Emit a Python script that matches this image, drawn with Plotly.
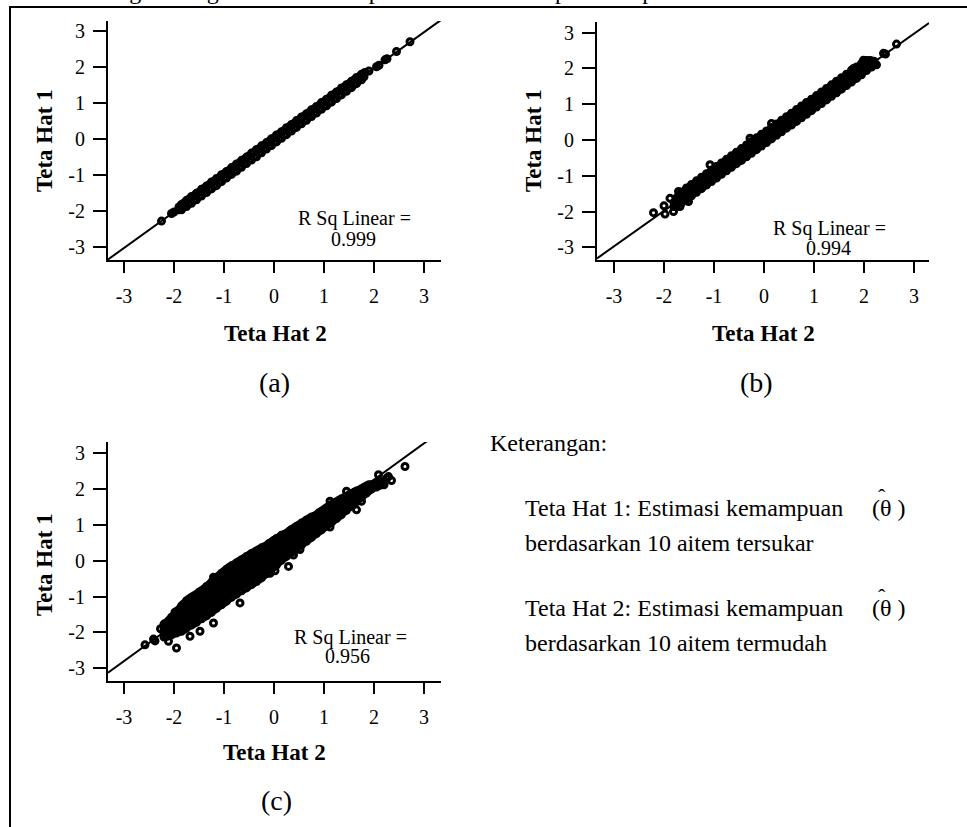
import plotly.graph_objects as go

W, H = 967, 827
SERIF = "Liberation Serif"

tick_vals = [-3, -2, -1, 0, 1, 2, 3]
tick_text = ["-3", "-2", "-1", "0", "1", "2", "3"]

# ---------------- panel (a): Teta Hat 2 (x) vs Teta Hat 1 (y) ----------------
a_cols_x = [-1.9, -1.8, -1.7, -1.6, -1.5, -1.4, -1.3, -1.2, -1.1, -1.0,
            -0.9, -0.8, -0.7, -0.6, -0.5, -0.4, -0.3, -0.2, -0.1, 0.0,
            0.1, 0.2, 0.3, 0.4, 0.5, 0.6, 0.7, 0.8, 0.9, 1.0,
            1.1, 1.2, 1.3, 1.4, 1.5, 1.6, 1.7, 1.8]
a_cols_y = [[-1.96, -1.88], [-1.87, -1.77], [-1.78, -1.67], [-1.68, -1.57],
            [-1.58, -1.47], [-1.48, -1.37], [-1.39, -1.27], [-1.28, -1.17],
            [-1.18, -1.07], [-1.09, -0.97], [-0.98, -0.87], [-0.88, -0.77],
            [-0.79, -0.67], [-0.68, -0.57], [-0.58, -0.47], [-0.49, -0.37],
            [-0.38, -0.27], [-0.28, -0.17], [-0.19, -0.07], [-0.08, 0.03],
            [0.02, 0.13], [0.11, 0.23], [0.22, 0.33], [0.31, 0.43],
            [0.42, 0.53], [0.51, 0.63], [0.62, 0.73], [0.71, 0.83],
            [0.82, 0.93], [0.91, 1.03], [1.02, 1.13], [1.11, 1.23],
            [1.22, 1.33], [1.31, 1.43], [1.42, 1.53], [1.51, 1.63],
            [1.62, 1.72], [1.72, 1.82]]
a_cols2_x = [-1.85, -1.75, -1.65, -1.55, -1.45, -1.35, -1.25, -1.15, -1.05, -0.95,
             -0.85, -0.75, -0.65, -0.55, -0.45, -0.35, -0.25, -0.15, -0.05, 0.05,
             0.15, 0.25, 0.35, 0.45, 0.55, 0.65, 0.75, 0.85, 0.95, 1.05,
             1.15, 1.25, 1.35, 1.45, 1.55, 1.65, 1.75]
a_cols2_y = [[-1.96, -1.81], [-1.87, -1.70], [-1.78, -1.59], [-1.68, -1.50],
             [-1.58, -1.39], [-1.48, -1.30], [-1.38, -1.19], [-1.29, -1.09],
             [-1.18, -0.99], [-1.08, -0.90], [-0.98, -0.79], [-0.89, -0.69],
             [-0.78, -0.59], [-0.68, -0.50], [-0.58, -0.39], [-0.49, -0.29],
             [-0.38, -0.19], [-0.28, -0.10], [-0.18, 0.01], [-0.08, 0.11],
             [0.02, 0.20], [0.12, 0.31], [0.22, 0.40], [0.32, 0.51],
             [0.42, 0.61], [0.52, 0.70], [0.62, 0.81], [0.72, 0.90],
             [0.82, 1.01], [0.92, 1.10], [1.02, 1.21], [1.12, 1.30],
             [1.22, 1.41], [1.32, 1.50], [1.42, 1.60], [1.53, 1.70],
             [1.64, 1.79]]
a_out_x = [-2.25, -2.05, -2.00, -1.72, 1.82, 1.90, 2.05, 2.10, 2.22, 2.26, 2.45, 2.72]
a_out_y = [-2.27, -2.06, -2.02, -1.68, 1.84, 1.88, 2.00, 2.04, 2.19, 2.22, 2.42, 2.69]
a_fit = (0.995, -0.03)
a_r2 = "0.999"

# ---------------- panel (b) ----------------
b_cols_x = [-1.8, -1.7, -1.6, -1.5, -1.4, -1.3, -1.2, -1.1, -1.0, -0.9,
            -0.8, -0.7, -0.6, -0.5, -0.4, -0.3, -0.2, -0.1, 0.0, 0.1,
            0.2, 0.3, 0.4, 0.5, 0.6, 0.7, 0.8, 0.9, 1.0, 1.1,
            1.2, 1.3, 1.4, 1.5, 1.6, 1.7, 1.8, 1.9, 2.0, 2.1, 2.2]
b_cols_y = [[-1.86, -1.75], [-1.76, -1.64, -1.55], [-1.66, -1.55, -1.45],
            [-1.57, -1.45, -1.33], [-1.47, -1.36, -1.24], [-1.36, -1.25, -1.15],
            [-1.27, -1.16, -1.04], [-1.17, -1.05, -0.93], [-1.07, -0.96, -0.84],
            [-0.96, -0.85, -0.75], [-0.87, -0.76, -0.63], [-0.77, -0.65, -0.54],
            [-0.67, -0.56, -0.45], [-0.57, -0.46, -0.34], [-0.48, -0.36, -0.25],
            [-0.37, -0.26, -0.16], [-0.27, -0.16, -0.04], [-0.18, -0.06, 0.05],
            [-0.07, 0.04, 0.16], [0.03, 0.14, 0.24], [0.13, 0.24, 0.36],
            [0.22, 0.34, 0.45], [0.33, 0.44, 0.55], [0.43, 0.53, 0.66],
            [0.52, 0.63, 0.74], [0.62, 0.74, 0.84], [0.72, 0.83, 0.95],
            [0.82, 0.93, 1.04], [0.91, 1.03, 1.14], [1.02, 1.13, 1.25],
            [1.12, 1.23, 1.34], [1.21, 1.33, 1.45], [1.32, 1.43, 1.54],
            [1.42, 1.52, 1.64], [1.51, 1.62, 1.74], [1.61, 1.72, 1.83],
            [1.71, 1.82, 1.94], [1.81, 1.92, 2.03], [1.93, 2.04, 2.15],
            [2.03, 2.14, 2.21], [2.12, 2.20]]
b_cols2_x = [-1.75, -1.65, -1.55, -1.45, -1.35, -1.25, -1.15, -1.05, -0.95, -0.85,
             -0.75, -0.65, -0.55, -0.45, -0.35, -0.25, -0.15, -0.05, 0.05, 0.15,
             0.25, 0.35, 0.45, 0.55, 0.65, 0.75, 0.85, 0.95, 1.05, 1.15,
             1.25, 1.35, 1.45, 1.55, 1.65, 1.75, 1.85, 1.95, 2.05, 2.15]
b_cols2_y = [[-1.86, -1.74, -1.62], [-1.76, -1.65, -1.53, -1.45], [-1.66, -1.55, -1.44, -1.34],
             [-1.56, -1.45, -1.34, -1.24], [-1.46, -1.35, -1.24, -1.14],
             [-1.36, -1.25, -1.14, -1.04], [-1.26, -1.15, -1.04, -0.94],
             [-1.16, -1.05, -0.94, -0.84], [-1.06, -0.95, -0.84, -0.74],
             [-0.96, -0.85, -0.74, -0.64], [-0.86, -0.75, -0.64, -0.54],
             [-0.76, -0.65, -0.54, -0.44], [-0.66, -0.55, -0.44, -0.34],
             [-0.57, -0.45, -0.34, -0.24], [-0.47, -0.35, -0.24, -0.14],
             [-0.37, -0.25, -0.14, -0.04], [-0.27, -0.15, -0.04, 0.06],
             [-0.17, -0.05, 0.06, 0.16], [-0.07, 0.04, 0.15, 0.25],
             [0.03, 0.14, 0.25, 0.35], [0.13, 0.24, 0.35, 0.45],
             [0.23, 0.34, 0.45, 0.55], [0.33, 0.44, 0.55, 0.65],
             [0.42, 0.54, 0.65, 0.75], [0.52, 0.64, 0.75, 0.85],
             [0.62, 0.74, 0.85, 0.95], [0.72, 0.84, 0.95, 1.05],
             [0.82, 0.94, 1.05, 1.14], [0.92, 1.04, 1.15, 1.24],
             [1.02, 1.13, 1.25, 1.34], [1.12, 1.23, 1.34, 1.44],
             [1.22, 1.33, 1.44, 1.54], [1.32, 1.43, 1.54, 1.64],
             [1.42, 1.53, 1.64, 1.74], [1.52, 1.63, 1.74, 1.84],
             [1.62, 1.73, 1.84, 1.95], [1.72, 1.83, 1.94, 2.04],
             [1.82, 1.93, 2.04, 2.14], [1.94, 2.05, 2.16, 2.22],
             [2.04, 2.13, 2.21]]
b_out_x = [-2.21, -1.98, -2.00, -1.81, -1.68, -1.51, -1.88, -1.71, -1.08, -0.28, 0.15,
           1.79, 1.99, 2.05, 2.12, 2.19, 2.25, 2.39, 2.43, 2.65]
b_out_y = [-2.03, -2.07, -1.84, -2.00, -1.86, -1.72, -1.63, -1.44, -0.69, 0.05, 0.46,
           2.00, 2.23, 2.20, 2.22, 2.14, 2.10, 2.42, 2.40, 2.68]
b_fit = (0.99, 0.0)
b_r2 = "0.994"

# ---------------- panel (c) ----------------
c_cols_x = [-2.2, -2.1, -2.0, -1.9, -1.8, -1.7, -1.6, -1.5, -1.4, -1.3,
            -1.2, -1.1, -1.0, -0.9, -0.8, -0.7, -0.6, -0.5, -0.4, -0.3,
            -0.2, -0.1, 0.0, 0.1, 0.2, 0.3, 0.4, 0.5, 0.6, 0.7,
            0.8, 0.9, 1.0, 1.1, 1.2, 1.3, 1.4, 1.5, 1.6, 1.7,
            1.8, 1.9, 2.0, 2.1]
c_cols_y = [[-2.13, -2.01, -1.88, -1.77],
            [-2.07, -1.93, -1.80, -1.66],
            [-2.03, -1.90, -1.77, -1.64, -1.52],
            [-1.98, -1.85, -1.72, -1.58, -1.46, -1.36],
            [-1.92, -1.79, -1.66, -1.53, -1.40, -1.28, -1.20],
            [-1.81, -1.68, -1.55, -1.42, -1.29, -1.16, -1.07],
            [-1.75, -1.62, -1.49, -1.36, -1.23, -1.10, -0.98],
            [-1.64, -1.51, -1.38, -1.25, -1.12, -0.99, -0.88],
            [-1.57, -1.44, -1.31, -1.18, -1.05, -0.92, -0.79],
            [-1.47, -1.34, -1.21, -1.08, -0.95, -0.82, -0.68],
            [-1.37, -1.24, -1.11, -0.98, -0.85, -0.72, -0.59, -0.54],
            [-1.26, -1.13, -1.00, -0.87, -0.74, -0.61, -0.48, -0.42],
            [-1.17, -1.04, -0.91, -0.78, -0.65, -0.52, -0.40, -0.30],
            [-1.05, -0.92, -0.79, -0.66, -0.53, -0.40, -0.27, -0.19],
            [-0.96, -0.83, -0.70, -0.57, -0.44, -0.31, -0.18, -0.11],
            [-0.86, -0.73, -0.60, -0.47, -0.34, -0.21, -0.08, -0.02],
            [-0.78, -0.65, -0.52, -0.39, -0.26, -0.13, 0.00, 0.06],
            [-0.69, -0.56, -0.43, -0.30, -0.17, -0.04, 0.09, 0.15],
            [-0.61, -0.48, -0.35, -0.22, -0.09, 0.04, 0.17, 0.23],
            [-0.51, -0.38, -0.25, -0.12, 0.01, 0.14, 0.27, 0.31],
            [-0.40, -0.27, -0.14, -0.01, 0.12, 0.25, 0.38],
            [-0.27, -0.14, -0.01, 0.12, 0.25, 0.38, 0.48],
            [-0.16, -0.03, 0.10, 0.23, 0.36, 0.49, 0.57],
            [-0.03, 0.10, 0.23, 0.36, 0.49, 0.62, 0.65],
            [0.08, 0.21, 0.34, 0.47, 0.60, 0.73],
            [0.19, 0.32, 0.45, 0.58, 0.71, 0.82],
            [0.30, 0.43, 0.56, 0.69, 0.82, 0.91],
            [0.40, 0.53, 0.66, 0.79, 0.92, 1.00],
            [0.51, 0.64, 0.77, 0.90, 1.03, 1.08],
            [0.61, 0.74, 0.87, 1.00, 1.13, 1.17],
            [0.72, 0.85, 0.98, 1.11, 1.24],
            [0.83, 0.96, 1.09, 1.22, 1.34],
            [0.93, 1.06, 1.19, 1.32, 1.43],
            [1.04, 1.17, 1.30, 1.43, 1.52],
            [1.14, 1.27, 1.40, 1.53, 1.60],
            [1.25, 1.38, 1.51, 1.64, 1.69],
            [1.37, 1.50, 1.63, 1.76],
            [1.49, 1.62, 1.74, 1.84],
            [1.61, 1.73, 1.84, 1.91],
            [1.73, 1.85, 1.97],
            [1.85, 1.97, 2.05],
            [1.96, 2.08, 2.12],
            [2.06, 2.14],
            [2.10, 2.18]]
c_cols2_x = [-2.15, -2.05, -1.95, -1.85, -1.75, -1.65, -1.55, -1.45, -1.35, -1.25,
             -1.15, -1.05, -0.95, -0.85, -0.75, -0.65, -0.55, -0.45, -0.35, -0.25,
             -0.15, -0.05, 0.05, 0.15, 0.25, 0.35, 0.45, 0.55, 0.65, 0.75,
             0.85, 0.95, 1.05, 1.15, 1.25, 1.35, 1.45, 1.55, 1.65, 1.75,
             1.85, 1.95, 2.05, 2.15]
c_cols2_y = [[-2.12, -1.99, -1.86, -1.73],
             [-2.07, -1.94, -1.81, -1.68, -1.58],
             [-2.02, -1.89, -1.76, -1.63, -1.50, -1.42],
             [-1.97, -1.84, -1.71, -1.58, -1.45, -1.32, -1.26],
             [-1.88, -1.75, -1.62, -1.49, -1.36, -1.23, -1.12],
             [-1.80, -1.67, -1.54, -1.41, -1.28, -1.15, -1.02],
             [-1.72, -1.59, -1.46, -1.33, -1.20, -1.07, -0.94],
             [-1.62, -1.49, -1.36, -1.23, -1.10, -0.97, -0.84],
             [-1.54, -1.41, -1.28, -1.15, -1.02, -0.89, -0.76, -0.72],
             [-1.44, -1.31, -1.18, -1.05, -0.92, -0.79, -0.66, -0.60],
             [-1.33, -1.20, -1.07, -0.94, -0.81, -0.68, -0.55, -0.47],
             [-1.23, -1.10, -0.97, -0.84, -0.71, -0.58, -0.45, -0.35],
             [-1.13, -1.00, -0.87, -0.74, -0.61, -0.48, -0.35, -0.24],
             [-1.02, -0.89, -0.76, -0.63, -0.50, -0.37, -0.24, -0.14],
             [-0.93, -0.80, -0.67, -0.54, -0.41, -0.28, -0.15, -0.06],
             [-0.84, -0.71, -0.58, -0.45, -0.32, -0.19, -0.06, 0.03],
             [-0.76, -0.63, -0.50, -0.37, -0.24, -0.11, 0.02, 0.12],
             [-0.67, -0.54, -0.41, -0.28, -0.15, -0.02, 0.11, 0.20],
             [-0.58, -0.45, -0.32, -0.19, -0.06, 0.07, 0.20, 0.28],
             [-0.48, -0.35, -0.22, -0.09, 0.04, 0.17, 0.30, 0.36],
             [-0.36, -0.23, -0.10, 0.03, 0.16, 0.29, 0.42],
             [-0.24, -0.11, 0.02, 0.15, 0.28, 0.41, 0.52],
             [-0.12, 0.01, 0.14, 0.27, 0.40, 0.53, 0.62],
             [0.01, 0.14, 0.27, 0.40, 0.53, 0.66, 0.71],
             [0.12, 0.25, 0.38, 0.51, 0.64, 0.77],
             [0.23, 0.36, 0.49, 0.62, 0.75, 0.87],
             [0.33, 0.46, 0.59, 0.72, 0.85, 0.96],
             [0.44, 0.57, 0.70, 0.83, 0.96, 1.05],
             [0.54, 0.67, 0.80, 0.93, 1.06, 1.14],
             [0.65, 0.78, 0.91, 1.04, 1.17, 1.22],
             [0.76, 0.89, 1.02, 1.15, 1.28],
             [0.86, 0.99, 1.12, 1.25, 1.38],
             [0.97, 1.10, 1.23, 1.36, 1.48],
             [1.07, 1.20, 1.33, 1.46, 1.57],
             [1.18, 1.31, 1.44, 1.57, 1.65],
             [1.29, 1.42, 1.55, 1.68, 1.73],
             [1.41, 1.54, 1.67, 1.80],
             [1.53, 1.66, 1.78, 1.88],
             [1.65, 1.78, 1.90, 1.95],
             [1.77, 1.90, 2.01],
             [1.89, 2.01, 2.09],
             [2.00, 2.12],
             [2.06, 2.16],
             [2.12, 2.20]]
c_out_x = [-2.58, -2.41, -2.38, -2.27, -2.11, -1.95, -1.98, -1.68, -1.48, -1.21, -1.21,
           -0.68, -0.08, 0.02, 0.29, 0.39, 0.52, 1.12, 1.12, 1.45, 1.65, 1.75,
           2.09, 2.20, 2.25, 2.29, 2.35, 2.62]
c_out_y = [-2.35, -2.19, -2.24, -1.90, -2.25, -2.44, -1.44, -2.11, -1.97, -1.74, -0.46,
           -1.18, -0.35, -0.28, -0.16, 0.16, 0.31, 0.94, 1.66, 1.94, 1.42, 1.66,
           2.40, 2.12, 2.30, 2.35, 2.24, 2.63]
c_fit = (1.014, 0.236)
c_r2 = "0.956"


def flatten(*pairs):
    xs, ys = [], []
    for cols_x, cols_y in pairs:
        for x, col in zip(cols_x, cols_y):
            for y in col:
                xs.append(x)
                ys.append(y)
    return xs, ys


def px(x):
    return x / W


def py(y):
    return 1 - y / H


# pixel frames of each panel: x-axis span, y-axis span, and where 0 sits
panels = [
    dict(name="", xs=(108, 441), ys=(21, 260), x0=274, y0=139.0, ypu=36.15,
         cols=[(a_cols_x, a_cols_y), (a_cols2_x, a_cols2_y)], out=(a_out_x, a_out_y), fit=a_fit),
    dict(name="2", xs=(597, 929), ys=(22, 260), x0=764, y0=140.0, ypu=35.8,
         cols=[(b_cols_x, b_cols_y), (b_cols2_x, b_cols2_y)], out=(b_out_x, b_out_y), fit=b_fit),
    dict(name="3", xs=(108, 441), ys=(442, 681), x0=274, y0=560.7, ypu=35.8,
         cols=[(c_cols_x, c_cols_y), (c_cols2_x, c_cols2_y)], out=(c_out_x, c_out_y), fit=c_fit),
]
XPU = 50.0

fig = go.Figure()
marker = dict(symbol="circle-open", size=6, color="black", line=dict(width=3, color="black"))

layout_axes = {}
for p in panels:
    n = p["name"]
    xr = [(p["xs"][0] - p["x0"]) / XPU, (p["xs"][1] - p["x0"]) / XPU]
    yr = [(p["y0"] - p["ys"][1]) / p["ypu"], (p["y0"] - p["ys"][0]) / p["ypu"]]
    common = dict(showline=True, linecolor="black", linewidth=2, ticks="outside",
                  tickwidth=2, tickcolor="black", showgrid=False, zeroline=False,
                  tickvals=tick_vals, ticktext=tick_text, fixedrange=True,
                  tickfont=dict(family=SERIF, size=20, color="black"))
    layout_axes["xaxis" + n] = dict(common, domain=[px(p["xs"][0]), px(p["xs"][1])],
                                    range=xr, anchor="y" + n, ticklen=11,
                                    ticklabelstandoff=6)
    layout_axes["yaxis" + n] = dict(common, domain=[py(p["ys"][1]), py(p["ys"][0])],
                                    range=yr, anchor="x" + n, ticklen=13,
                                    ticklabelstandoff=4)
    bx, by = flatten(*p["cols"])
    fig.add_trace(go.Scatter(x=bx, y=by, mode="markers", marker=marker,
                             xaxis="x" + n, yaxis="y" + n, showlegend=False,
                             hoverinfo="skip"))
    fig.add_trace(go.Scatter(x=p["out"][0], y=p["out"][1], mode="markers", marker=marker,
                             xaxis="x" + n, yaxis="y" + n, showlegend=False,
                             hoverinfo="skip"))
    slope, icpt = p["fit"]
    fig.add_trace(go.Scatter(x=xr, y=[icpt + slope * xr[0], icpt + slope * xr[1]],
                             mode="lines", line=dict(color="black", width=2),
                             xaxis="x" + n, yaxis="y" + n, showlegend=False,
                             hoverinfo="skip"))

annotations = []


def text(s, x, y, size, bold=False, angle=0, xanchor="center", yanchor="middle"):
    annotations.append(dict(
        text="<b>%s</b>" % s if bold else s, x=px(x), y=py(y), xref="paper", yref="paper",
        showarrow=False, textangle=angle, xanchor=xanchor, yanchor=yanchor,
        font=dict(family=SERIF, size=size, color="black")))


# axis titles
text("Teta Hat 1", 44, 141, 23, bold=True, angle=-90)
text("Teta Hat 1", 533, 141, 23, bold=True, angle=-90)
text("Teta Hat 1", 44, 565, 23, bold=True, angle=-90)
text("Teta Hat 2", 275, 333, 23, bold=True)
text("Teta Hat 2", 763, 333, 23, bold=True)
text("Teta Hat 2", 274, 752, 23, bold=True)

# panel letters
text("(a)", 274, 382, 28)
text("(b)", 756, 382, 28)
text("(c)", 276, 800, 28)

# fit statistics
text("R Sq Linear =", 354, 219, 20)
text(a_r2, 353, 239, 20)
text("R Sq Linear =", 829, 228, 20)
text(b_r2, 828, 248, 20)
text("R Sq Linear =", 350, 637, 20)
text(c_r2, 347, 656, 20)

# explanation block
text("Keterangan:", 488, 443, 24, xanchor="left")
for row_y, line1, line2 in [(508, "Teta Hat 1: Estimasi kemampuan", "berdasarkan 10 aitem tersukar"),
                            (608, "Teta Hat 2: Estimasi kemampuan", "berdasarkan 10 aitem termudah")]:
    text(line1, 523, row_y, 24, xanchor="left")
    text("(\u03b8 )", 870, row_y, 24, xanchor="left")
    text("\u02c6", 882, row_y - 12, 22)
    text(line2, 523, row_y + 35, 24, xanchor="left")

# running text of the page just above the frame (only its lower edge shows)
for word, wx in [("masing-masing", 70), ("tabel", 224), ("dapat", 344),
                 ("dilihat", 448), ("pada lampiran", 553)]:
    text(word, wx, 6, 24, xanchor="left", yanchor="bottom")

fig.update_layout(
    width=W, height=H, margin=dict(l=0, r=0, t=0, b=0),
    paper_bgcolor="white", plot_bgcolor="white",
    annotations=annotations,
    shapes=[dict(type="rect", xref="paper", yref="paper",
                 x0=px(10), x1=1.05, y0=-0.05, y1=py(7),
                 line=dict(color="black", width=2), fillcolor="rgba(0,0,0,0)")],
    **layout_axes,
)

fig.write_html("out.html")
